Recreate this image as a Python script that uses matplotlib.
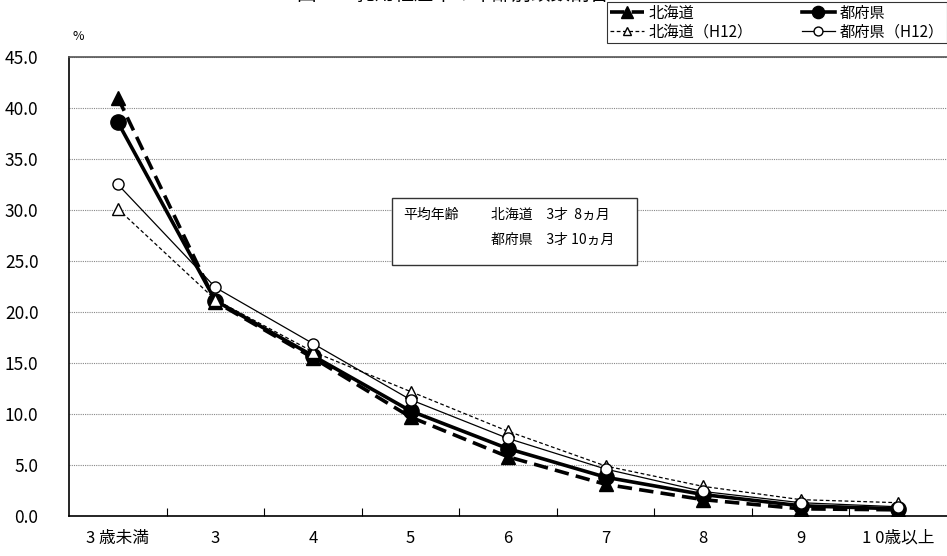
import matplotlib.pyplot as plt
from matplotlib.patches import Rectangle
import numpy as np

plt.rcParams['font.family'] = ['Noto Sans CJK JP', 'DejaVu Sans']

# 年齢区分
categories = ['3 歳未満', '3', '4', '5', '6', '7', '8', '9', '1 0歳以上']
# 構成比 (%)
hokkaido = [41.0, 21.0, 15.5, 9.7, 5.8, 3.1, 1.6, 0.7, 0.6]
tofuken = [38.6, 21.1, 15.7, 10.3, 6.6, 3.8, 2.1, 1.0, 0.7]
hokkaido_h12 = [30.1, 21.2, 16.1, 12.2, 8.3, 4.9, 2.9, 1.6, 1.3]
tofuken_h12 = [32.5, 22.4, 16.9, 11.4, 7.6, 4.6, 2.4, 1.3, 0.9]
yticks = np.arange(0, 50, 5)

fig = plt.figure(figsize=(9.47, 5.56), dpi=100)
ax = fig.add_axes([0.073, 0.072, 0.927, 0.8255])

x = np.arange(len(categories))

l1, = ax.plot(x, hokkaido, color='black', lw=2.6, ls=(0, (4, 2)),
              marker='^', ms=10, mfc='black', mec='black', zorder=4)
l2, = ax.plot(x, tofuken, color='black', lw=2.6, ls='-',
              marker='o', ms=11, mfc='black', mec='black', zorder=5)
l3, = ax.plot(x, hokkaido_h12, color='black', lw=0.9, ls=(0, (3, 2)),
              marker='^', ms=8, mfc='white', mec='black', mew=1.0, zorder=6)
l4, = ax.plot(x, tofuken_h12, color='black', lw=0.9, ls='-',
              marker='o', ms=8, mfc='white', mec='black', mew=1.0, zorder=7)

ax.set_xlim(-0.5, len(categories) - 0.5)
ax.set_ylim(0, 45)
ax.set_yticks(yticks)
ax.set_yticklabels([f'{v:.1f}' for v in yticks], fontsize=12.5)
ax.tick_params(axis='y', length=0, pad=22)
ax.set_xticks(x)
ax.set_xticklabels(categories, fontsize=12)
ax.set_xticks(x[:-1] + 0.5, minor=True)
ax.tick_params(axis='x', which='major', length=0, pad=10)
ax.tick_params(axis='x', which='minor', direction='in', length=6, width=0.8)

ax.grid(axis='y', color='#888888', ls=(0, (1, 1)), lw=0.8)
ax.set_axisbelow(True)
for s in ['left', 'bottom']:
    ax.spines[s].set_linewidth(1.2)
ax.spines['top'].set_color('#555555')
ax.spines['top'].set_linewidth(1.2)
ax.spines['right'].set_visible(False)

fig.text(0.077, 0.928, '%', fontsize=9)

# 平均年齢の注記
ax.add_patch(Rectangle((0.368, 0.547), 0.279, 0.146, transform=ax.transAxes,
                       facecolor='white', edgecolor='#333333', lw=1.0, zorder=8))
ax.text(0.381, 0.648, '平均年齢', transform=ax.transAxes, fontsize=10, zorder=9)
ax.text(0.480, 0.648, '北海道　3才  8ヵ月', transform=ax.transAxes, fontsize=10, zorder=9)
ax.text(0.480, 0.594, '都府県　3才 10ヵ月', transform=ax.transAxes, fontsize=10, zorder=9)

# タイトル (上端で切れている)
fig.text(0.478, 1.010, '図５　乳用経産牛の年齢別頭数割合', fontsize=14,
         ha='center', va='center')

leg = fig.legend([l1, l3, l2, l4],
                 ['北海道', '北海道（H12）', '都府県', '都府県（H12）'],
                 ncol=2, loc='upper right', bbox_to_anchor=(1.0, 0.997),
                 borderaxespad=0, fontsize=11, frameon=True, fancybox=False,
                 edgecolor='black', borderpad=0.2, handlelength=2.2,
                 handletextpad=0.3, columnspacing=3.2, labelspacing=0.1,
                 markerscale=0.8)
leg.get_frame().set_linewidth(0.8)

plt.savefig('out.png', dpi=100)
